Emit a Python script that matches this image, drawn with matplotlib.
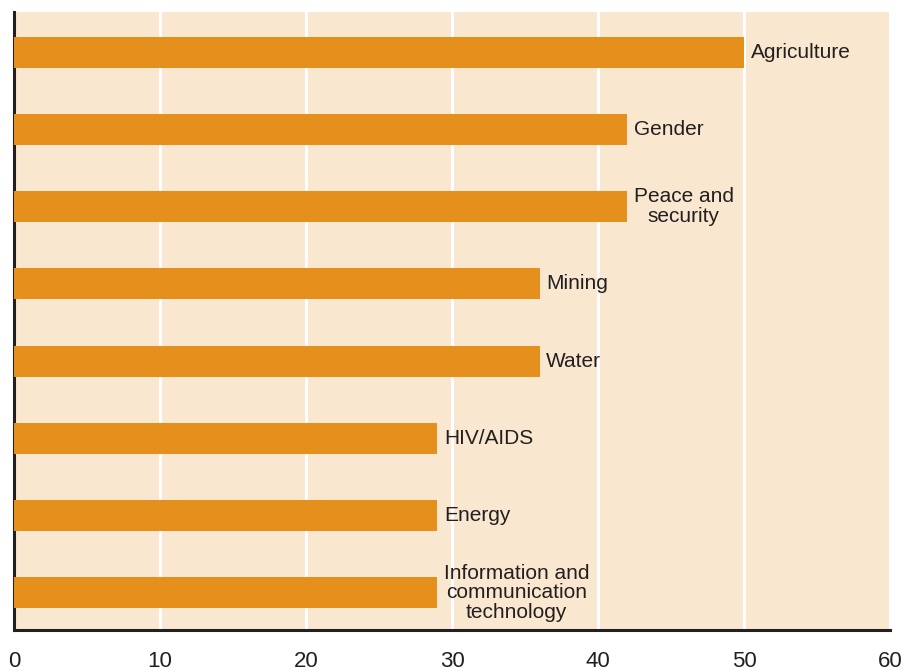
import matplotlib
matplotlib.use("Agg")
import matplotlib.pyplot as plt

categories = ["Agriculture", "Gender", "Peace and\nsecurity", "Mining", "Water",
              "HIV/AIDS", "Energy", "Information and\ncommunication\ntechnology"]
values = [50, 42, 42, 36, 36, 29, 29, 29]
xticks = [0, 10, 20, 30, 40, 50, 60]

plt.rcParams['font.family'] = ['Liberation Sans', 'DejaVu Sans']

fig = plt.figure(figsize=(9.05, 6.71), dpi=100)
ax = fig.add_axes([14/905, 41/671, 876/905, 618/671])
ax.set_facecolor('#FAE7D0')

n = len(categories)
ypos = [n - 1 - i for i in range(n)]
ax.barh(ypos, values, height=0.4, color='#E58F1C', zorder=3)

for y, v, lab in zip(ypos, values, categories):
    ax.text(v + 0.45, y, lab, ha='left', va='center', multialignment='center',
            fontsize=15, color='#231F20', zorder=4, linespacing=1.05)

ax.set_xlim(0, 60)
ax.set_ylim(-0.48, n - 0.48)
ax.set_xticks(xticks)
ax.set_xticklabels([str(t) for t in xticks], fontsize=16, color='#231F20')
ax.set_yticks([])
ax.tick_params(axis='x', length=0, pad=15)
ax.xaxis.grid(True, color='white', linewidth=2.2, zorder=1)
ax.set_axisbelow(True)
for s in ['top', 'right']:
    ax.spines[s].set_visible(False)
for s in ['left', 'bottom']:
    ax.spines[s].set_color('#231F20')
    ax.spines[s].set_linewidth(2.2)

fig.savefig('out.png', dpi=100)
